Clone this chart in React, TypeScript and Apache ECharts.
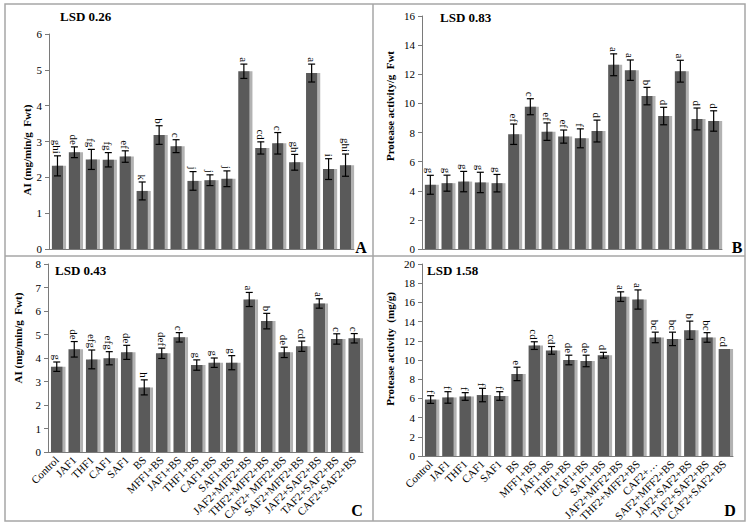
import React, { useEffect, useRef } from "react";
import * as echarts from "echarts";

const categories = [
  "Control", "JAF1", "THF1", "CAF1", "SAF1", "BS", "MFF1+BS", "JAF1+BS", "THF1+BS",
  "CAF1+BS", "SAF1+BS", "JAF2+MFF2+BS", "THF2+MFF2+BS", "CAF2+ MFF2+BS", "SAF2+MFF2+BS",
  "JAF2+SAF2+BS", "TAF2+SAF2+BS", "CAF2+SAF2+BS",
];
const categoriesD = [
  "Control", "JAF1", "THF1", "CAF1", "SAF1", "BS", "MFF1+BS", "JAF1+BS", "THF1+BS",
  "CAF1+BS", "SAF1+BS", "JAF2+MFF2+BS", "THF2+MFF2+BS", "CAF2+…", "SAF2+MFF2+BS",
  "JAF2+SAF2+BS", "TAF2+SAF2+BS", "CAF2+SAF2+BS",
];

const aValues = [2.32, 2.70, 2.50, 2.49, 2.58, 1.62, 3.18, 2.87, 1.90, 1.92, 1.96, 4.96, 2.82, 2.95, 2.42, 4.91, 2.23, 2.34];
const aErrors = [0.28, 0.15, 0.28, 0.20, 0.16, 0.25, 0.26, 0.18, 0.26, 0.15, 0.22, 0.20, 0.17, 0.30, 0.22, 0.25, 0.29, 0.31];
const aLetters = ["ghi", "de", "fg", "fg", "ef", "k", "b", "c", "j", "j", "j", "a", "cd", "c", "gh", "a", "i", "ghi"];

const bValues = [4.41, 4.52, 4.63, 4.57, 4.52, 7.88, 9.77, 8.06, 7.72, 7.60, 8.10, 12.65, 12.28, 10.50, 9.13, 12.21, 8.93, 8.79];
const bErrors = [0.65, 0.55, 0.70, 0.70, 0.60, 0.70, 0.55, 0.60, 0.45, 0.65, 0.75, 0.75, 0.70, 0.60, 0.60, 0.75, 0.75, 0.70];
const bLetters = ["g", "g", "g", "g", "g", "ef", "c", "ef", "ef", "f", "d", "a", "a", "b", "d", "a", "d", "d"];

const cValues = [3.63, 4.37, 3.94, 3.99, 4.24, 2.75, 4.20, 4.88, 3.70, 3.80, 3.80, 6.49, 5.57, 4.24, 4.50, 6.32, 4.81, 4.84];
const cErrors = [0.20, 0.33, 0.40, 0.28, 0.30, 0.32, 0.22, 0.20, 0.22, 0.20, 0.30, 0.30, 0.33, 0.22, 0.22, 0.20, 0.22, 0.20];
const cLetters = ["g", "de", "efg", "efg", "de", "h", "def", "c", "g", "g", "g", "a", "b", "de", "cd", "a", "c", "c"];

const dValues = [5.88, 6.10, 6.20, 6.35, 6.25, 8.55, 11.50, 11.00, 10.00, 9.90, 10.50, 16.60, 16.30, 12.35, 12.20, 13.10, 12.35, 11.15];
const dErrors = [0.40, 0.60, 0.40, 0.70, 0.45, 0.70, 0.40, 0.40, 0.50, 0.60, 0.30, 0.50, 1.00, 0.55, 0.70, 0.95, 0.50, 0];
const dLetters = ["f", "f", "f", "f", "f", "e", "cd", "cd", "de", "de", "d", "a", "a", "bc", "bc", "b", "bc", "cd"];

const yMaxes = [6, 16, 8, 20];
const yIntervals = [1, 2, 1, 2];
const lsdTexts = ["LSD 0.26", "LSD 0.83", "LSD 0.43", "LSD 1.58"];
const panelLetters = ["A", "B", "C", "D"];
const yTitles = ["AI (mg/min/g  Fwt)", "Protease activity/g  Fwt", "AI (mg/min/g  Fwt)", "Protease activity  (mg/g)"];

const SERIF = '"Liberation Serif", "Times New Roman", serif';

export default function App() {
  const ref = useRef<HTMLDivElement>(null);
  useEffect(() => {
    document.body.style.margin = "0";
    const chart = echarts.init(ref.current!, null, { renderer: "svg" });
    const panels = [
      { values: aValues, errors: aErrors, letters: aLetters, cats: categories, showX: false },
      { values: bValues, errors: bErrors, letters: bLetters, cats: categories, showX: false },
      { values: cValues, errors: cErrors, letters: cLetters, cats: categories, showX: true },
      { values: dValues, errors: dErrors, letters: dLetters, cats: categoriesD, showX: true },
    ];
    const grids = [
      { left: 49, top: 34, width: 305, height: 215 },
      { left: 422, top: 16, width: 300, height: 233 },
      { left: 48, top: 264, width: 315, height: 188 },
      { left: 422, top: 264, width: 311, height: 192 },
    ];
    const xAxis = panels.map((p, i) => ({
      type: "category",
      gridIndex: i,
      data: p.cats,
      axisLine: { lineStyle: { color: "#7a7a7a", width: 1 } },
      axisTick: { show: false },
      axisLabel: {
        show: p.showX,
        interval: 0,
        rotate: 45,
        fontFamily: SERIF,
        fontSize: 11,
        color: "#000",
        margin: 6,
      },
    }));
    const yAxis = panels.map((p, i) => ({
      type: "value",
      gridIndex: i,
      min: 0,
      max: yMaxes[i],
      interval: yIntervals[i],
      axisLine: { show: true, lineStyle: { color: "#7a7a7a", width: 1 } },
      axisTick: { show: true, length: 4, lineStyle: { color: "#7a7a7a" } },
      splitLine: { show: false },
      axisLabel: { fontFamily: SERIF, fontSize: 11, color: "#000", margin: 7 },
    }));
    const series: any[] = [];
    panels.forEach((p, i) => {
      series.push({
        type: "bar",
        xAxisIndex: i,
        yAxisIndex: i,
        data: p.values,
        barWidth: "66%",
        itemStyle: {
          color: "#5a5a5a",
          shadowColor: "rgba(0,0,0,0.3)",
          shadowBlur: 1,
          shadowOffsetX: 3,
          shadowOffsetY: 0,
        },
      });
      series.push({
        type: "custom",
        xAxisIndex: i,
        yAxisIndex: i,
        data: p.values.map((v, k) => [k, v, p.errors[k]]),
        z: 5,
        renderItem: (params: any, api: any) => {
          const x = api.value(0);
          const v = api.value(1);
          const e = api.value(2);
          const hi = api.coord([x, v + e]);
          const lo = api.coord([x, v - e]);
          const top = api.coord([x, v]);
          const cx = top[0];
          const children: any[] = [];
          if (e > 0) {
            const st = { stroke: "#000", lineWidth: 1.2 };
            children.push({ type: "line", shape: { x1: cx, y1: hi[1], x2: cx, y2: lo[1] }, style: st });
            children.push({ type: "line", shape: { x1: cx - 3.5, y1: hi[1], x2: cx + 3.5, y2: hi[1] }, style: st });
            children.push({ type: "line", shape: { x1: cx - 3.5, y1: lo[1], x2: cx + 3.5, y2: lo[1] }, style: st });
          }
          children.push({
            type: "text",
            x: cx,
            y: hi[1] - 2,
            rotation: -Math.PI / 2,
            style: {
              text: p.letters[params.dataIndex],
              align: "right",
              verticalAlign: "middle",
              fontFamily: SERIF,
              fontSize: 11,
              fill: "#000",
            },
          });
          return { type: "group", children };
        },
      });
    });
    const graphic: any[] = [
      { type: "rect", shape: { x: 5, y: 4, width: 740, height: 517 }, style: { fill: "none", stroke: "#a6a6a6", lineWidth: 1.5 }, silent: true },
      { type: "line", shape: { x1: 373, y1: 4, x2: 373, y2: 521 }, style: { stroke: "#a6a6a6", lineWidth: 1.5 } },
      { type: "line", shape: { x1: 5, y1: 256, x2: 745, y2: 256 }, style: { stroke: "#a6a6a6", lineWidth: 1.5 } },
    ];
    const lsdPos = [[60, 16], [440, 17], [55, 270], [427, 270]];
    const letterPos = [[361, 247], [737, 247], [357, 510], [730, 510]];
    const titlePos = [[27, 150], [390, 106], [18, 338], [390, 349]];
    for (let i = 0; i < 4; i++) {
      graphic.push({
        type: "text", x: lsdPos[i][0], y: lsdPos[i][1],
        style: { text: lsdTexts[i], fontFamily: SERIF, fontSize: 13, fontWeight: "bold", fill: "#000", align: "left", verticalAlign: "middle" },
      });
      graphic.push({
        type: "text", x: letterPos[i][0], y: letterPos[i][1],
        style: { text: panelLetters[i], fontFamily: SERIF, fontSize: 16, fontWeight: "bold", fill: "#000", align: "center", verticalAlign: "middle" },
      });
      graphic.push({
        type: "text", x: titlePos[i][0], y: titlePos[i][1], rotation: Math.PI / 2,
        style: { text: yTitles[i], fontFamily: SERIF, fontSize: 11, fontWeight: "bold", fill: "#000", align: "center", verticalAlign: "middle" },
      });
    }
    chart.setOption({
      animation: false,
      backgroundColor: "#fff",
      grid: grids,
      xAxis,
      yAxis,
      series,
      graphic,
    });
    return () => chart.dispose();
  }, []);
  return <div ref={ref} style={{ position: "absolute", left: 0, top: 0, width: 750, height: 527 }} />;
}
